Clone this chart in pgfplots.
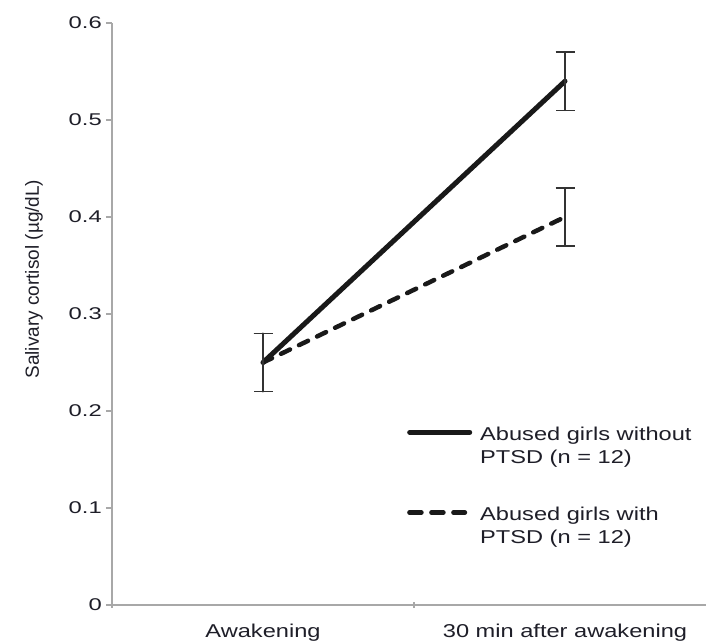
\documentclass[border=0pt]{standalone}
\usepackage{fontspec}
\setmainfont{Liberation Sans}
\newfontfamily\wide{Liberation Sans}[FakeStretch=1.27]
\newfontfamily\wider{Liberation Sans}[FakeStretch=1.4]
\usepackage{pgfplots}
\pgfplotsset{compat=1.18}
\definecolor{axgray}{HTML}{A8A8A8}
\definecolor{txt}{HTML}{1E1E28}
\definecolor{errc}{HTML}{333333}
\begin{document}
\begin{tikzpicture}
\useasboundingbox (0,0) rectangle (706pt,640pt);
\begin{axis}[
  at={(112pt,35pt)}, anchor=south west,
  scale only axis, width=604pt, height=582pt,
  xmin=0.5, xmax=2.5, ymin=0, ymax=0.6,
  axis lines*=left,
  axis line style={axgray, line width=1.8pt},
  clip=false,
  ytick={0,0.1,0.2,0.3,0.4,0.5,0.6},
  yticklabels={0,0.1,0.2,0.3,0.4,0.5,0.6},
  xtick={0.5,1.5,2.5},
  x tick label as interval,
  xticklabels={Awakening,30 min after awakening},
  tick align=outside,
  major tick length=6pt,
  tick style={axgray, line width=1.5pt},
  xtick style={yshift=3pt},
  yticklabel style={font=\wider\fontsize{17}{17}\selectfont, text=txt, anchor=east, inner sep=0pt, xshift=-4pt},
  xticklabel style={font=\wide\fontsize{18.6}{22}\selectfont, text=txt, anchor=base, inner sep=0pt, yshift=-26pt},
  ylabel={Salivary cortisol (µg/dL)},
  ylabel style={font=\fontsize{19}{19}\selectfont, text=txt, at={(axis description cs:-0.129,0.56)}, anchor=center, rotate=0},
  legend style={at={(0.4884,0.307)}, anchor=north west, draw=none, fill=none, inner sep=0pt,
    font=\wide\fontsize{18.6}{23.3}\selectfont, text=txt, column sep=8pt, row sep=42pt,
    nodes={inner sep=0pt, anchor=west}, cells={align=left}},
  error bars/error bar style={errc, line width=1.6pt, solid},
  error bars/error mark options={errc, line width=1.6pt, mark size=9.5pt, rotate=90, solid},
]
\addplot[black!90, line width=5pt, line cap=round,
  legend image code/.code={\draw[black!90, line width=5pt, line cap=round] (2.5pt,13.4pt) -- (62.5pt,13.4pt);},
  error bars/.cd, y dir=both, y explicit]
  coordinates {(1,0.25) +- (0,0.03) (2,0.54) +- (0,0.03)};
\addlegendentry{Abused girls without\\PTSD (n = 12)}
\addplot[black!90, line width=4.5pt, line cap=round, dash pattern=on 10pt off 10pt,
  legend image code/.code={\draw[black!90, line width=4.5pt, line cap=round, dash pattern=on 12pt off 10pt] (2.25pt,13.4pt) -- (57.75pt,13.4pt);},
  error bars/.cd, y dir=both, y explicit]
  coordinates {(1,0.25) +- (0,0.03) (2,0.40) +- (0,0.03)};
\addlegendentry{Abused girls with\\PTSD (n = 12)}
\end{axis}
\end{tikzpicture}
\end{document}
